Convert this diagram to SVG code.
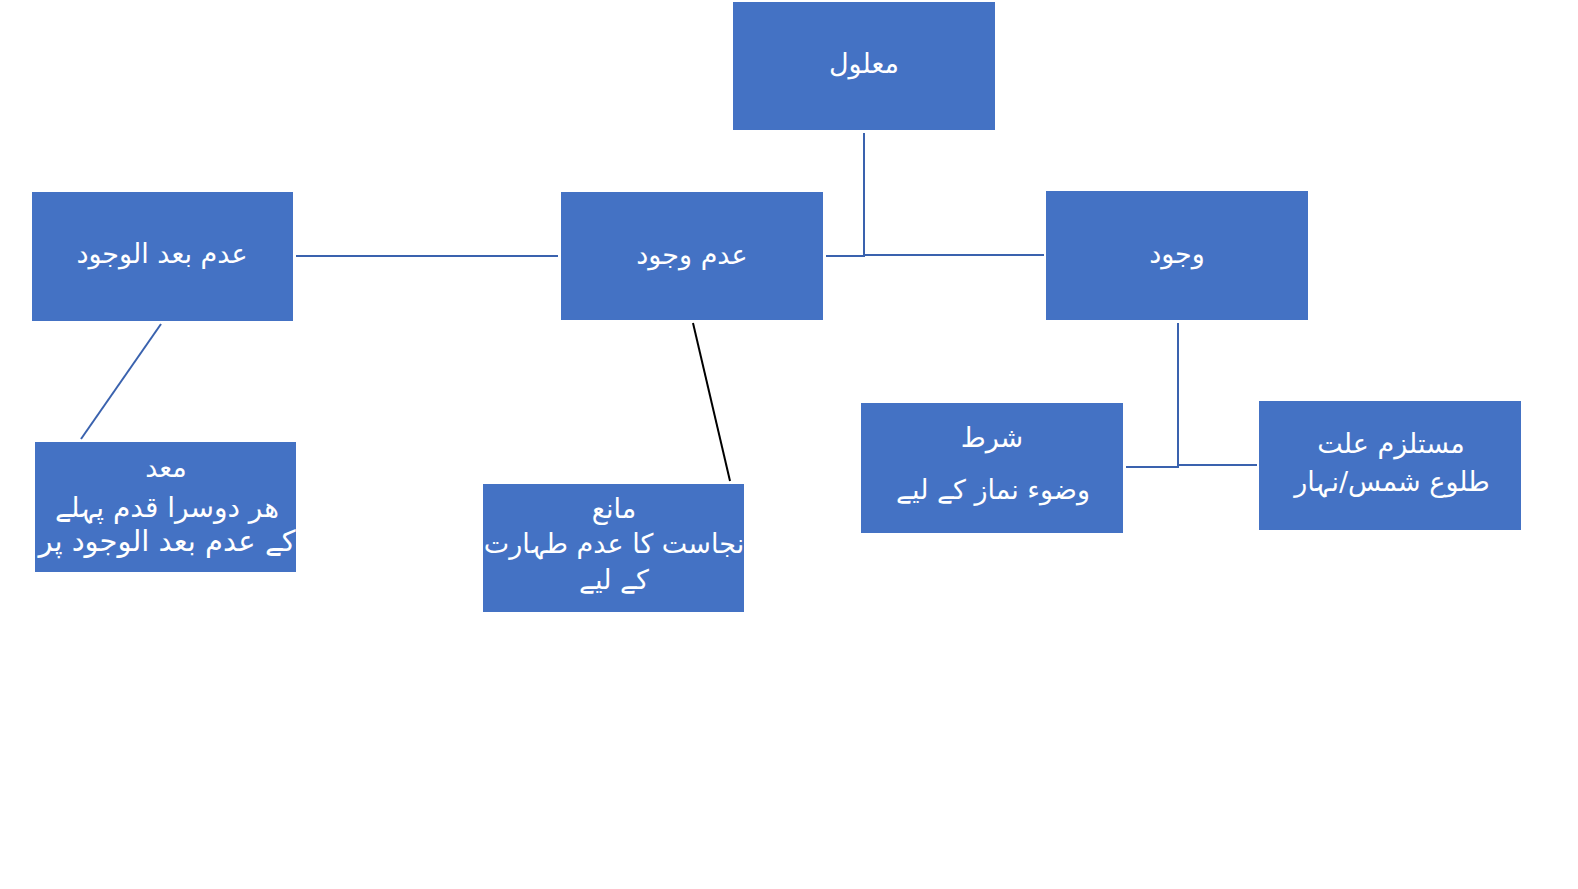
<svg xmlns="http://www.w3.org/2000/svg" width="1578" height="889" viewBox="0 0 1578 889">
<style>
.box{fill:#4472C4}
.t{fill:#fff;font-family:"DejaVu Sans","Noto Sans",sans-serif;font-size:27px;text-anchor:middle}
.c{stroke:#3A62AE;stroke-width:2;fill:none}
.k{stroke:#000;stroke-width:2;fill:none}
</style>
<rect width="1578" height="889" fill="#fff"/>
<g id="connectors">
<line class="c" x1="296" y1="256" x2="558" y2="256"/>
<polyline class="c" points="826,256 864,256 864,133"/>
<line class="c" x1="864" y1="255" x2="1044" y2="255"/>
<line class="c" x1="161" y1="324" x2="81" y2="439"/>
<line class="k" x1="693" y1="323" x2="730" y2="481"/>
<polyline class="c" points="1126,467 1178,467 1178,323"/>
<line class="c" x1="1178" y1="465" x2="1257" y2="465"/>
</g>
<g id="n-maalool">
<rect class="box" x="733" y="2" width="262" height="128"/>
<text class="t" x="864" y="73" direction="rtl">معلول</text>
</g>
<g id="n-adam-bad">
<rect class="box" x="32" y="192" width="261" height="129"/>
<text class="t" x="162" y="263" direction="rtl">عدم بعد الوجود</text>
</g>
<g id="n-adam-wujood">
<rect class="box" x="561" y="192" width="262" height="128"/>
<text class="t" x="692" y="264" direction="rtl">عدم وجود</text>
</g>
<g id="n-wujood">
<rect class="box" x="1046" y="191" width="262" height="129"/>
<text class="t" x="1177" y="263" direction="rtl">وجود</text>
</g>
<g id="n-muidd">
<rect class="box" x="35" y="442" width="261" height="130"/>
<text class="t" x="166" y="477" direction="rtl">معد</text>
<text class="t" x="167" y="517" direction="rtl" style="font-size:28px">هر دوسرا قدم پہلے</text>
<text class="t" x="167" y="551" direction="rtl" style="font-size:29px">کے عدم بعد الوجود پر</text>
</g>
<g id="n-mani">
<rect class="box" x="483" y="484" width="261" height="128"/>
<text class="t" x="614" y="518" direction="rtl">مانع</text>
<text class="t" x="614" y="553" direction="rtl">نجاست کا عدم طہارت</text>
<text class="t" x="614" y="589" direction="rtl">کے لیے</text>
</g>
<g id="n-shart">
<rect class="box" x="861" y="403" width="262" height="130"/>
<text class="t" x="992" y="447" direction="rtl">شرط</text>
<text class="t" x="993" y="499" direction="rtl">وضوء نماز کے لیے</text>
</g>
<g id="n-mustalzim">
<rect class="box" x="1259" y="401" width="262" height="129"/>
<text class="t" x="1391" y="453" direction="rtl">مستلزم علت</text>
<text class="t" x="1392" y="491" direction="rtl">طلوع شمس/نہار</text>
</g>
</svg>
